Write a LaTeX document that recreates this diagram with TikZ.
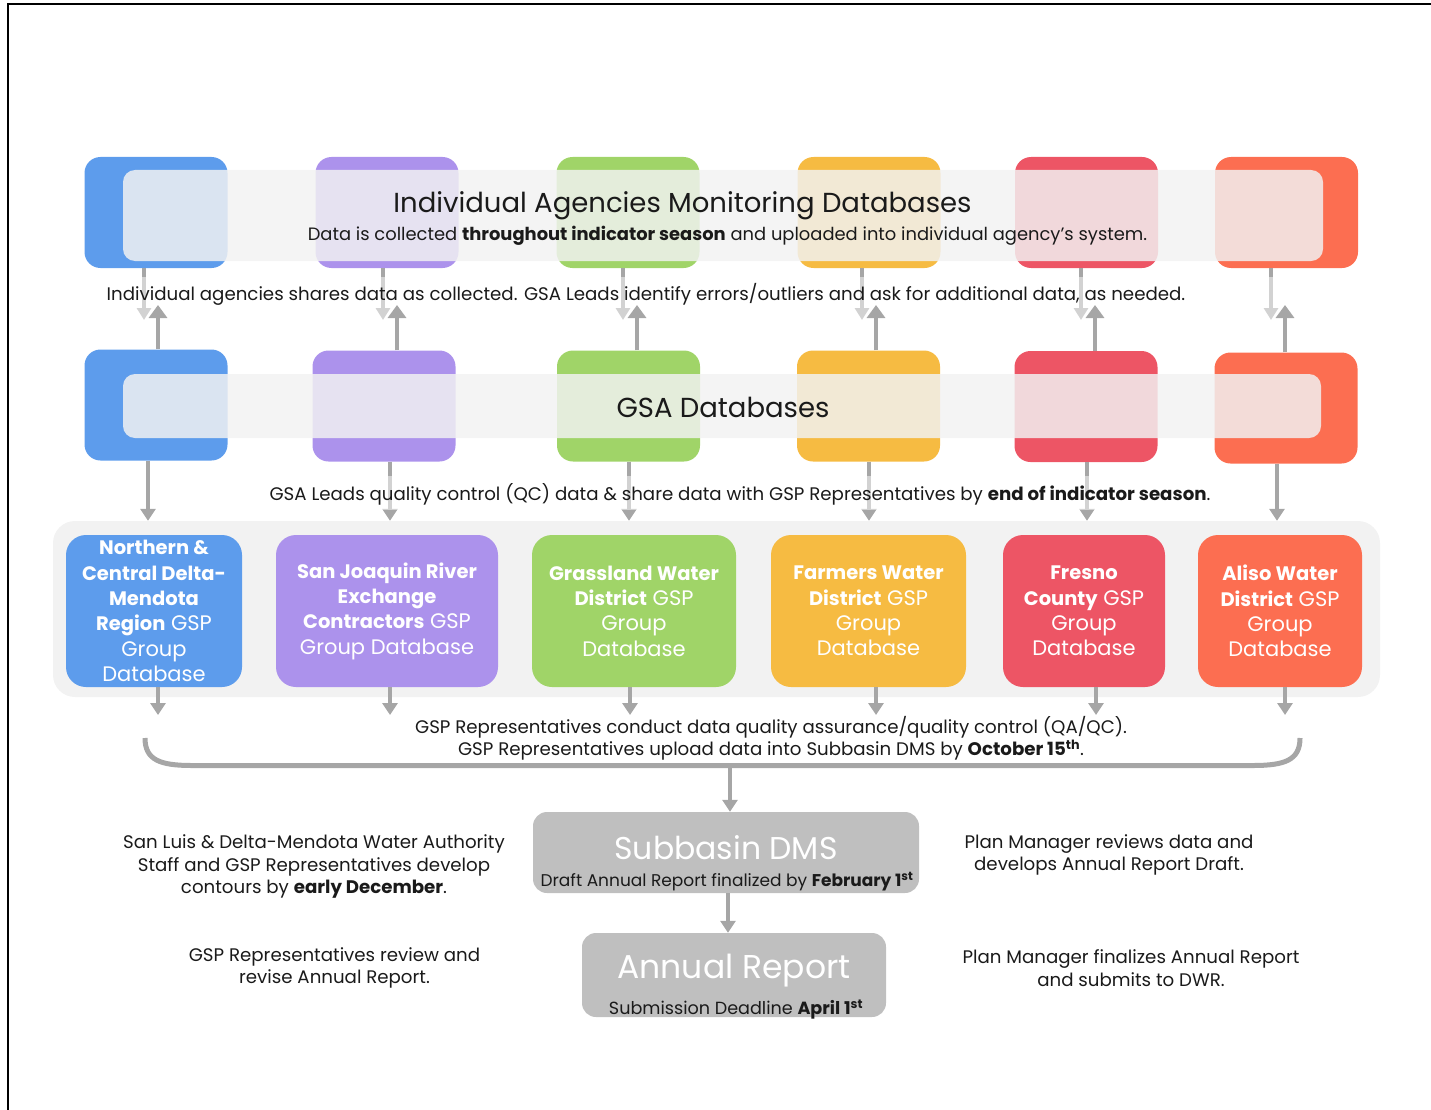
\documentclass[tikz,border=0pt]{standalone}
\usepackage{fontspec}
\setmainfont{Poppins}
\usetikzlibrary{arrows.meta}

\definecolor{cblue}{HTML}{5D9CEC}
\definecolor{cpurple}{HTML}{AC92EC}
\definecolor{cgreen}{HTML}{A0D468}
\definecolor{cyellow}{HTML}{F6BB42}
\definecolor{cred}{HTML}{ED5565}
\definecolor{corange}{HTML}{FC6E51}
\definecolor{arrowgray}{HTML}{A6A6A6}
\definecolor{boxgray}{HTML}{BFBFBF}
\definecolor{panelgray}{HTML}{F2F2F2}
\definecolor{ink}{HTML}{1A1A1A}

\newcommand{\fs}[2]{\fontsize{#1}{#2}\selectfont}
% bold group names, set a little smaller than the regular words
\newcommand{\gname}[1]{{\fontsize{19.5}{25.3}\selectfont\bfseries #1}}

\begin{document}
\begin{tikzpicture}[x=1pt,y=-1pt,
  dbbox/.style={rounded corners=16pt, minimum width=143pt, minimum height=111pt, inner sep=0pt},
  banner/.style={fill=panelgray, fill opacity=0.84, rounded corners=12pt, inner sep=0pt},
  gspbox/.style={rounded corners=20pt, minimum height=152pt, inner sep=0pt, align=center,
    text=white, font=\fs{21}{25.3}},
  flow/.style={draw=arrowgray, line width=4.5pt, -{Triangle[width=15pt,length=12pt]}},
  note/.style={text=ink, inner sep=0pt, align=center, font=\fs{18.2}{22.8}},
  dmsbox/.style={fill=boxgray, rounded corners=14pt, inner sep=0pt}
]
\useasboundingbox (0,0) rectangle (1431,1110);

% frame lines
\draw[line width=2pt, black] (1431,4.5) -- (8,4.5) -- (8,1110);

% ---------------- row 1: agency monitoring databases
\node[dbbox, fill=cblue]   (t1) at (156,212.5) {};
\node[dbbox, fill=cpurple] (t2) at (387,212.5) {};
\node[dbbox, fill=cgreen]  (t3) at (628,212.5) {};
\node[dbbox, fill=cyellow] (t4) at (869,212.5) {};
\node[dbbox, fill=cred]    (t5) at (1086.5,212.5) {};
\node[dbbox, fill=corange] (t6) at (1286.5,212.5) {};

\node[banner, minimum width=1200pt, minimum height=91pt] (b1) at (723,215.5) {};
\node[text=ink, inner sep=0pt, font=\fs{27.5}{32}] (title1) at (682.5,205.5) {Individual Agencies Monitoring Databases};
\node[note, font=\fs{17.9}{22}] (sub1) at (727.5,236) {Data is collected \textbf{throughout indicator season} and uploaded into individual agency’s system.};

% ---------------- row 2: GSA databases
\node[dbbox, fill=cblue]   (g1) at (156,405) {};
\node[dbbox, fill=cpurple] (g2) at (384,406) {};
\node[dbbox, fill=cgreen]  (g3) at (628.5,406) {};
\node[dbbox, fill=cyellow] (g4) at (868.5,406) {};
\node[dbbox, fill=cred]    (g5) at (1086,406.5) {};
\node[dbbox, fill=corange] (g6) at (1286,408) {};

\node[banner, minimum width=1198pt, minimum height=64pt] (b2) at (722,406) {};
\node[text=ink, inner sep=0pt, font=\fs{27.5}{32}] (title2) at (723,407.5) {GSA Databases};

% arrows between row 1 and row 2
\coordinate (dnend) at (0,320);
\coordinate (upend) at (0,305);
\foreach \n/\dx in {1/-12, 2/-4, 3/-5, 4/-7, 5/-5.5, 6/-15.5}
  \draw[flow, -{Triangle[width=14pt,length=12pt]}, line width=4pt]
    ([xshift=\dx pt]t\n.south) -- ([xshift=\dx pt]t\n.south |- dnend);
\fill[white, opacity=0.5] (95,277) rectangle (1300,323);
\node[note] (share) at (646,294) {Individual agencies shares data as collected. GSA Leads identify errors/outliers and ask for additional data, as needed.};
\foreach \n/\ux in {1/2, 2/13, 3/8.5, 4/7.5, 5/9, 6/-1}
  \draw[flow, -{Triangle[width=18pt,length=13pt]}]
    ([xshift=\ux pt]g\n.north) -- ([xshift=\ux pt]g\n.north |- upend);

% ---------------- row 3: GSP group databases
\node[fill=panelgray, rounded corners=22pt, minimum width=1327pt, minimum height=176pt, inner sep=0pt] (panel) at (716.5,609) {};

\foreach \n/\dx in {1/-8, 2/6, 3/0.5, 4/0.5, 5/1, 6/-9}
  \draw[flow] ([xshift=\dx pt]g\n.south) -- ([xshift=\dx pt]g\n.south |- panel.north);
\fill[white, opacity=0.5] (262,476) rectangle (1220,510);
\node[note] (qc) at (740,494) {GSA Leads quality control (QC) data \& share data with GSP Representatives by \textbf{end of indicator season}.};

\node[gspbox, fill=cblue,   minimum width=176pt] (r1) at (154,611)
  {\gname{Northern \&}\\\gname{Central Delta-}\\\gname{Mendota}\\\gname{Region} GSP\\Group\\Database};
\node[gspbox, fill=cpurple, minimum width=222pt] (r2) at (387,611)
  {\gname{San Joaquin River}\\\gname{Exchange}\\\gname{Contractors} GSP\\Group Database};
\node[gspbox, fill=cgreen,  minimum width=204pt] (r3) at (634,611)
  {\gname{Grassland Water}\\\gname{District} GSP\\Group\\Database};
\node[gspbox, fill=cyellow, minimum width=195pt] (r4) at (868.5,611)
  {\gname{Farmers Water}\\\gname{District} GSP\\Group\\Database};
\node[gspbox, fill=cred,    minimum width=162pt] (r5) at (1084,611)
  {\gname{Fresno}\\\gname{County} GSP\\Group\\Database};
\node[gspbox, fill=corange, minimum width=164pt] (r6) at (1280,611)
  {\gname{Aliso Water}\\\gname{District} GSP\\Group\\Database};

\coordinate (qaend) at (0,715);
\foreach \n/\dx in {1/4, 2/3, 3/-4, 4/7.5, 5/12, 6/5}
  \draw[flow] ([xshift=\dx pt]r\n.south) -- ([xshift=\dx pt]r\n.south |- qaend);

\node[note] (qa1) at (771,727.5) {GSP Representatives conduct data quality assurance/quality control (QA/QC).};
\node[note] (qa2) at (771,750.5) {GSP Representatives upload data into Subbasin DMS by \textbf{October 15\textsuperscript{th}}.};

% gathering bracket
\draw[arrowgray, line width=5pt]
  (145,738) .. controls (145,760) and (160,765.5) .. (192,765.5)
  -- (1253,765.5) .. controls (1285,765.5) and (1300,760) .. (1300,738);
\coordinate (brk) at (730,765.5);

% ---------------- subbasin DMS and annual report
\node[dmsbox, minimum width=386pt, minimum height=81pt] (dms) at (726,852.5) {};
\node[text=white, inner sep=0pt, font=\fs{31.5}{36}] (dmst) at (726,848) {Subbasin DMS};
\node[note, font=\fs{17}{20}] (dmss) at (727,881.5) {Draft Annual Report finalized by \textbf{February 1\textsuperscript{st}}};

\node[dmsbox, minimum width=304pt, minimum height=84pt] (ar) at (734,975) {};
\node[text=white, inner sep=0pt, font=\fs{33}{38}] (art) at (734,971) {Annual Report};
\node[note, font=\fs{17.6}{20}] (ars) at (736,1009.5) {Submission Deadline \textbf{April 1\textsuperscript{st}}};

\draw[flow] (brk) -- (brk |- dms.north);
\draw[flow] ([xshift=2pt]dms.south) -- ([xshift=2pt]dms.south |- ar.north);

% ---------------- side notes
\node[note] (n1) at (314,866.5) {San Luis \& Delta-Mendota Water Authority\\Staff and GSP Representatives develop\\contours by \textbf{early December}.};
\node[note] (n2) at (334.5,968) {GSP Representatives review and\\revise Annual Report.};
\node[note] (n3) at (1109,855) {Plan Manager reviews data and\\develops Annual Report Draft.};
\node[note] (n4) at (1131,968) {Plan Manager finalizes Annual Report\\and submits to DWR.};
\end{tikzpicture}
\end{document}
